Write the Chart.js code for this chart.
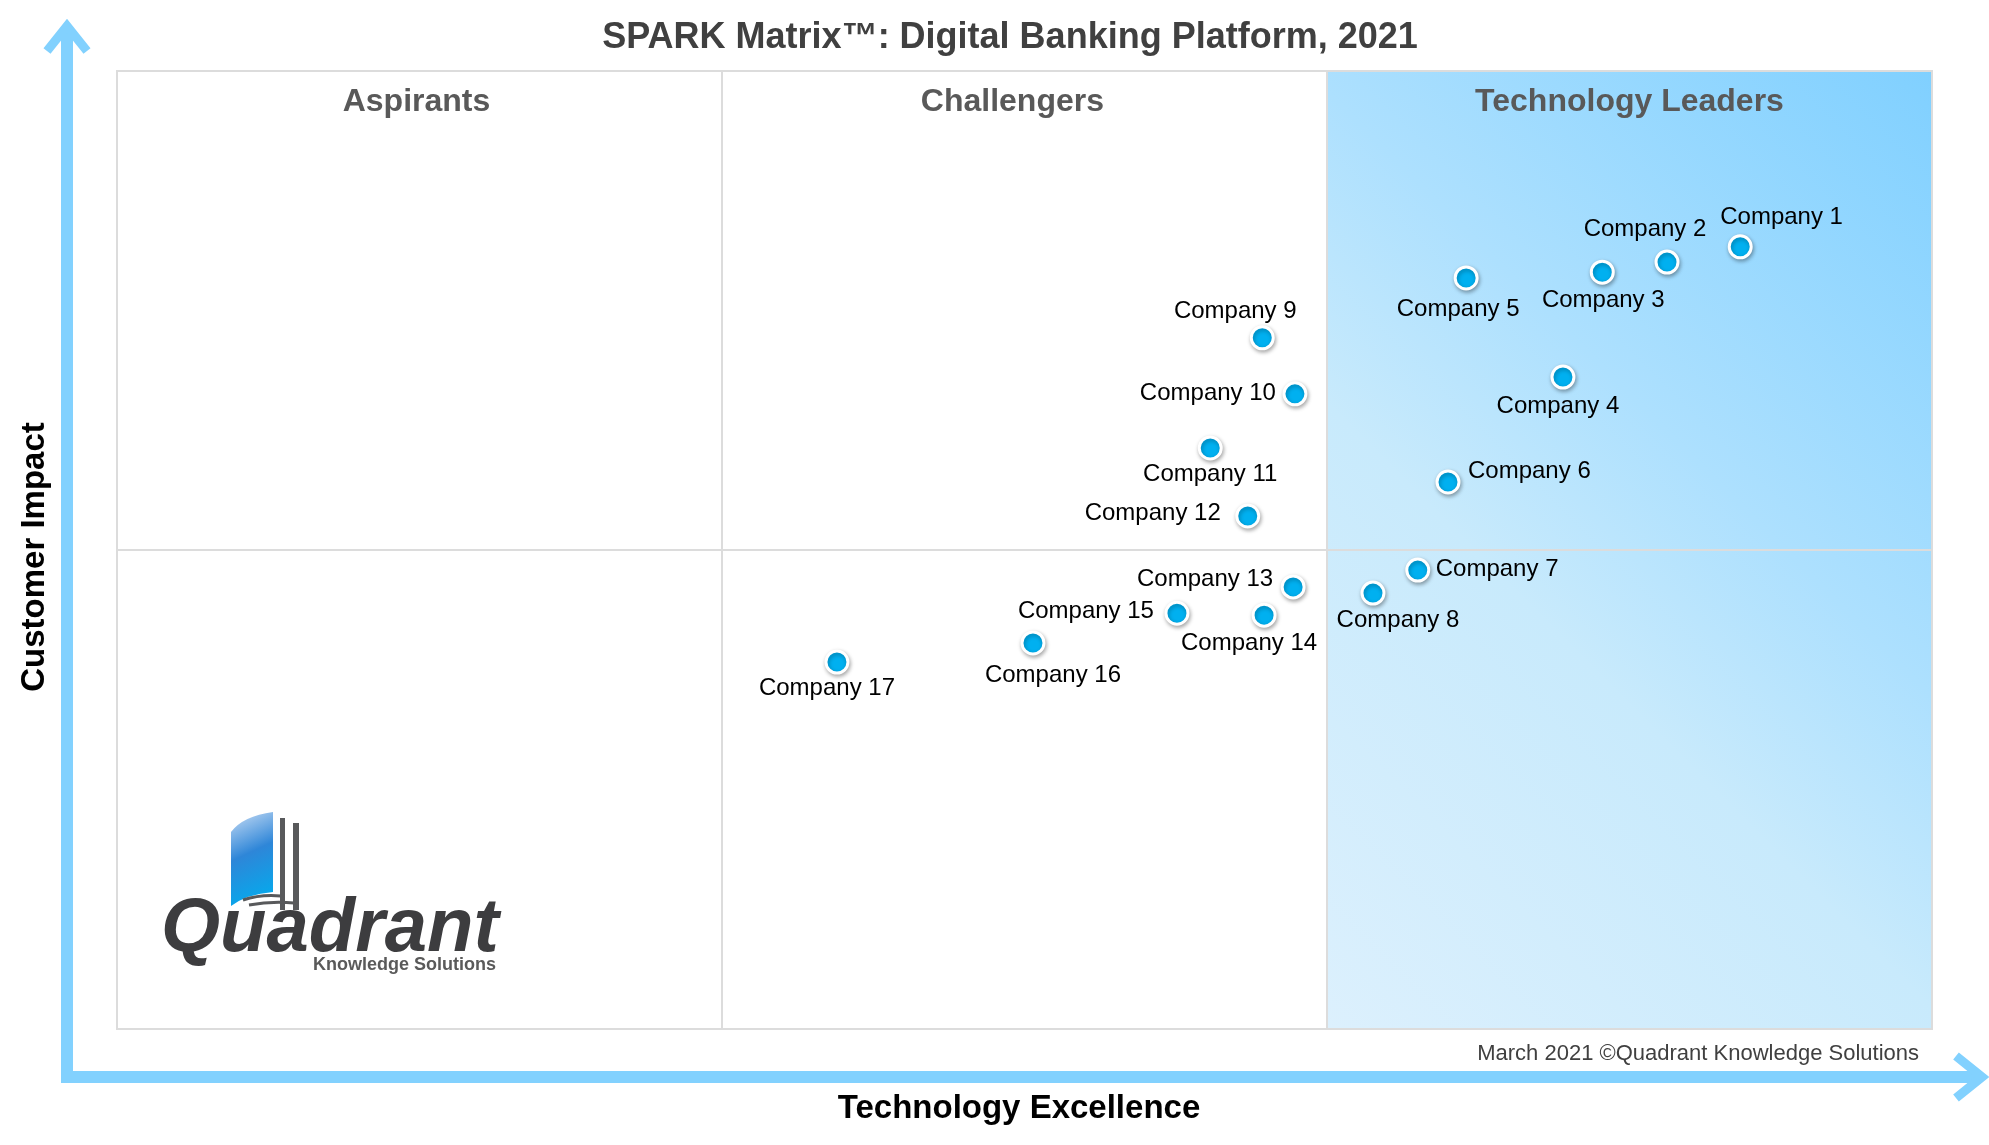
<!DOCTYPE html>
<html>
<head>
<meta charset="utf-8">
<title>SPARK Matrix: Digital Banking Platform, 2021</title>
<script src="https://cdn.jsdelivr.net/npm/chart.js@4/dist/chart.umd.min.js"></script>
<style>
  html, body { margin: 0; padding: 0; background: #fff; }
  #wrap { width: 1989px; height: 1145px; position: relative; }
</style>
</head>
<body>
<div id="wrap"><canvas id="spark"></canvas></div>
<script>
const companies = [
  "Company 1", "Company 2", "Company 3", "Company 4", "Company 5", "Company 6",
  "Company 7", "Company 8", "Company 9", "Company 10", "Company 11", "Company 12",
  "Company 13", "Company 14", "Company 15", "Company 16", "Company 17",
];
// technology excellence (x) and customer impact (y), 0-3 / 0-2 grid
const techExcellence = [2.683, 2.562, 2.455, 2.390, 2.230, 2.200, 2.150, 2.076, 1.893, 1.947, 1.807, 1.869, 1.944, 1.896, 1.752, 1.514, 1.190];
const customerImpact = [1.633, 1.601, 1.580, 1.361, 1.568, 1.142, 0.958, 0.910, 1.443, 1.326, 1.213, 1.071, 0.923, 0.864, 0.868, 0.806, 0.766];
const quadrantNames = ["Aspirants", "Challengers", "Technology Leaders"];
const quadrantCenters = [0.495, 1.48, 2.5];

const chartTitle = "SPARK Matrix\u2122: Digital Banking Platform, 2021";
const xTitle = "Technology Excellence";
const yTitle = "Customer Impact";
const footNote = "March 2021 \u00A9Quadrant Knowledge Solutions";

// where each name sits next to its dot: [align, dx, dy]
const labelSpots = [
  ["left", -20, -29], ["center", -22, -33], ["center", 1, 28], ["center", -5, 29],
  ["center", -8, 31], ["left", 20, -11], ["left", 18, -1], ["center", 25, 27],
  ["center", -27, -26], ["right", -19, 0], ["center", 0, 26], ["right", -27, -3],
  ["right", -20, -8], ["center", -15, 28], ["right", -23, -2], ["center", 20, 32],
  ["center", -10, 26],
];

const FONT = '"Liberation Sans", Arial, Helvetica, sans-serif';
const ARROW = "#82D1FE";

const points = techExcellence.map((x, i) => ({ x: x, y: customerImpact[i] }));

function drawLogo(ctx, left, top) {
  // blue page
  const px = left + 114, py = top + 741;
  const g = ctx.createLinearGradient(px, py, px + 42, py + 90);
  g.addColorStop(0, "#C9DDF5");
  g.addColorStop(0.45, "#2E86D8");
  g.addColorStop(1, "#00AEEF");
  ctx.fillStyle = g;
  ctx.beginPath();
  ctx.moveTo(px, py + 20);
  ctx.quadraticCurveTo(px + 12, py + 4, px + 42, py);
  ctx.lineTo(px + 42, py + 80);
  ctx.quadraticCurveTo(px + 16, py + 82, px, py + 94);
  ctx.closePath();
  ctx.fill();
  // grey page edges
  ctx.fillStyle = "#58595B";
  ctx.fillRect(px + 49, py + 6, 5, 92);
  ctx.fillRect(px + 62, py + 11, 6, 87);
  ctx.strokeStyle = "#58595B";
  ctx.lineWidth = 3;
  ctx.beginPath();
  ctx.moveTo(px + 12, py + 88);
  ctx.quadraticCurveTo(px + 30, py + 82, px + 50, py + 84);
  ctx.stroke();
  ctx.beginPath();
  ctx.moveTo(px + 18, py + 93);
  ctx.quadraticCurveTo(px + 40, py + 89, px + 63, py + 91);
  ctx.stroke();
  // word mark
  ctx.fillStyle = "#3D3D3F";
  ctx.font = "italic bold 76px " + FONT;
  ctx.textAlign = "left";
  ctx.textBaseline = "alphabetic";
  ctx.fillText("Quadrant", left + 44, top + 880);
  ctx.fillStyle = "#5A5A5A";
  ctx.font = "bold 18px " + FONT;
  ctx.textBaseline = "middle";
  ctx.fillText("Knowledge Solutions", left + 196, top + 894);
}

const matrixPlugin = {
  id: "matrix",
  beforeDraw(chart) {
    const { ctx, chartArea: a, scales } = chart;
    const xs = scales.x, ys = scales.y;
    ctx.save();
    ctx.fillStyle = "#fff";
    ctx.fillRect(0, 0, chart.width, chart.height);

    // leaders column gradient
    const x2 = xs.getPixelForValue(2), x3 = xs.getPixelForValue(3);
    const yTop = ys.getPixelForValue(2), yBot = ys.getPixelForValue(0);
    const w = x3 - x2, h = yBot - yTop;
    const k = (w + h) / 2;
    const g = ctx.createLinearGradient(x2, yBot, x2 + k, yBot - k);
    g.addColorStop(0, "#DCF0FD");
    g.addColorStop(0.4, "#C8EAFC");
    g.addColorStop(0.6, "#ADE0FE");
    g.addColorStop(1, "#80D0FF");
    ctx.fillStyle = g;
    ctx.fillRect(x2, yTop, w, h);

    // quadrant lines and frame
    ctx.strokeStyle = "#DCDCDC";
    ctx.lineWidth = 2;
    [1, 2].forEach((v) => {
      const x = xs.getPixelForValue(v);
      ctx.beginPath();
      ctx.moveTo(x, a.top);
      ctx.lineTo(x, a.bottom);
      ctx.stroke();
    });
    const ym = ys.getPixelForValue(1);
    ctx.beginPath();
    ctx.moveTo(a.left, ym);
    ctx.lineTo(a.right, ym);
    ctx.stroke();
    ctx.strokeRect(a.left, a.top, a.right - a.left, a.bottom - a.top);

    // axis arrows
    ctx.strokeStyle = ARROW;
    ctx.lineWidth = 12;
    ctx.lineCap = "butt";
    const ax = a.left - 50, ay = a.bottom + 48;
    ctx.beginPath();
    ctx.moveTo(ax, ay + 6);
    ctx.lineTo(ax, a.top - 44);
    ctx.stroke();
    ctx.beginPath();
    ctx.moveTo(ax - 6, ay);
    ctx.lineTo(a.right + 48, ay);
    ctx.stroke();
    ctx.lineWidth = 9;
    ctx.lineJoin = "miter";
    ctx.beginPath();
    ctx.moveTo(ax - 20, a.top - 20);
    ctx.lineTo(ax, a.top - 45);
    ctx.lineTo(ax + 20, a.top - 20);
    ctx.stroke();
    ctx.beginPath();
    ctx.moveTo(a.right + 24, ay - 21);
    ctx.lineTo(a.right + 50, ay);
    ctx.lineTo(a.right + 24, ay + 21);
    ctx.stroke();

    // texts
    ctx.textBaseline = "middle";
    ctx.textAlign = "center";
    ctx.fillStyle = "#404040";
    ctx.font = "bold 36px " + FONT;
    ctx.fillText(chartTitle, 1010, a.top - 33);

    ctx.fillStyle = "#595959";
    ctx.font = "bold 32px " + FONT;
    quadrantNames.forEach((q, i) => {
      ctx.fillText(q, xs.getPixelForValue(quadrantCenters[i]), a.top + 31);
    });

    ctx.fillStyle = "#000";
    ctx.font = "bold 33px " + FONT;
    ctx.fillText(xTitle, 1019, ay + 32);
    ctx.save();
    ctx.translate(35, 557);
    ctx.rotate(-Math.PI / 2);
    ctx.fillText(yTitle, 0, 0);
    ctx.restore();

    ctx.fillStyle = "#404040";
    ctx.font = "22px " + FONT;
    ctx.textAlign = "right";
    ctx.fillText(footNote, a.right - 13, a.bottom + 25);

    drawLogo(ctx, a.left, a.top);
    ctx.restore();
  },
  beforeDatasetsDraw(chart) {
    const ctx = chart.ctx;
    ctx.save();
    ctx.shadowColor = "rgba(0,0,0,0.3)";
    ctx.shadowBlur = 4;
    ctx.shadowOffsetX = 1;
    ctx.shadowOffsetY = 2;
  },
  afterDatasetsDraw(chart) {
    const ctx = chart.ctx;
    ctx.restore();
    const meta = chart.getDatasetMeta(0);
    ctx.save();
    ctx.fillStyle = "#000";
    ctx.font = "24px " + FONT;
    ctx.textBaseline = "middle";
    meta.data.forEach((pt, i) => {
      const [align, dx, dy] = labelSpots[i];
      ctx.textAlign = align;
      ctx.fillText(companies[i], pt.x + dx, pt.y + dy);
    });
    ctx.restore();
  },
};

const canvas = document.querySelector("#spark");
const sparkChart = new Chart(canvas, {
  type: "scatter",
  data: {
    datasets: [
      {
        label: "Vendors",
        data: points,
        backgroundColor: "#00B0F0",
        borderColor: "#FFFFFF",
        borderWidth: 3,
        pointRadius: 11,
        pointHoverRadius: 11,
      },
    ],
  },
  options: {
    responsive: true,
    maintainAspectRatio: false,
    animation: false,
    layout: {
      padding: { left: 117, right: 57, top: 71, bottom: 116 },
    },
    scales: {
      x: { type: "linear", min: 0, max: 3, display: false },
      y: { type: "linear", min: 0, max: 2, display: false },
    },
    plugins: {
      legend: { display: false },
      tooltip: { enabled: false },
    },
  },
  plugins: [matrixPlugin],
});
</script>
</body>
</html>
